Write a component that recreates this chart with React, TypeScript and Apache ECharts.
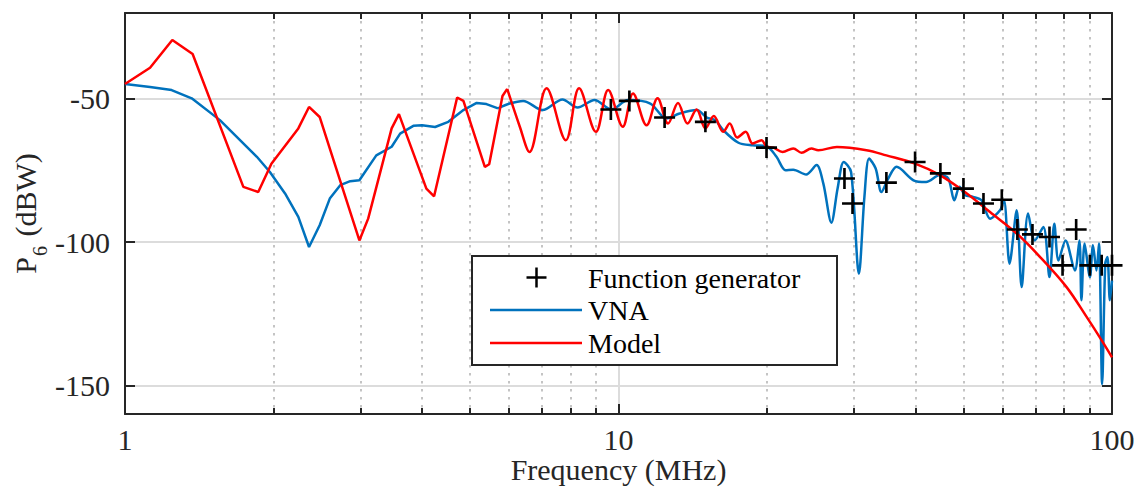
import React, { useEffect, useRef } from "react";
import * as echarts from "echarts";

// ---- data ----
const vnaFreq = [1, 1.124, 1.243, 1.365, 1.557, 1.85, 1.966, 2.11, 2.245, 2.36, 2.48, 2.6, 2.73, 2.86, 2.985, 3.23, 3.47, 3.61, 3.84, 4.0, 4.25, 4.52, 4.85, 5.16, 5.4, 5.7,
  6.02, 6.41, 7.02, 7.7, 8.26, 8.94, 9.67, 10.46, 11.6, 12.5, 13.3, 14.4, 15.1, 15.7, 16.3, 17.5, 18.7, 19.95, 20.9, 21.8, 22.6, 24.0, 25.2, 26.0, 27.0, 27.8, 28.6, 29.6, 30.7, 31.5, 32.2, 33.2, 34.1, 35.2, 36.6, 39.6, 42.0, 44.8, 46.6, 47.9, 49.1, 50.4, 52.3, 54.4, 56.6, 59.3, 60.4, 62.0, 64.1, 65.6, 67.6, 69.8, 72.6, 74.7, 76.4, 77.9, 80.5, 84.1, 85.9, 86.7, 88.0, 90.2, 91.5, 93.0, 94.1, 95.5, 96.9, 97.9, 99.0, 100];
const vnaDb = [-44.8, -45.8, -46.9, -49.8, -57.4, -70.2, -75.5, -83.0, -91.2, -101.7, -94.1, -84.8, -80.1, -78.7, -78.4, -69.7, -66.7, -62.1, -59.4, -59.2, -59.8, -58.0, -53.9, -51.4, -51.8, -53.3,
  -51.6, -50.7, -53.9, -50.2, -53.0, -50.4, -53.7, -50.4, -51.6, -56.8, -55.1, -53.9, -56.5, -57.4, -60.9, -65.3, -66.2, -66.5, -70.2, -74.9, -74.7, -76.4, -73.1, -79.5, -93.2, -81.2, -72.0, -75.5, -111.0, -84.2, -70.8, -74.3, -82.5, -77.8, -73.7, -78.4, -79.0, -76.6, -77.8, -85.4, -80.7, -83.6, -84.2, -85.4, -91.8, -88.9, -85.4, -107.5, -88.9, -115.7, -90.0, -99.4, -94.7, -112.2, -93.6, -106.4, -99.4, -109.9, -99.4, -120.3, -100.5, -112.2, -101.1, -109.9, -100.5, -149.5, -107.5, -105.2, -120.3, -113.4];

const modelFreq = [1, 1.124, 1.247, 1.371, 1.737, 1.862, 1.98, 2.245, 2.36, 2.48, 2.62, 2.985, 3.11, 3.47, 3.59, 4.08, 4.23, 4.71, 4.85, 5.36, 5.47, 5.82, 5.95,
  6.31, 6.6, 7.15, 7.82, 8.32, 9.0, 9.53, 10.2, 10.7, 11.4, 12.0, 12.6, 13.2, 13.8, 14.4, 15.0, 15.6, 16.3, 16.8, 17.4, 18.1, 18.7, 19.5, 19.95, 20.6, 21.5, 22.6, 23.5, 24.6, 25.4, 27.7, 31.8, 34.9, 39.9, 44.8, 50.8, 56.6, 64.1, 71.5, 80.9, 88.9, 95.3, 100];
const modelDb = [-44.8, -39.1, -29.4, -34.3, -80.7, -82.5, -72.6, -60.3, -52.8, -56.3, -69.1, -99.4, -91.8, -60.3, -55.3, -81.3, -84.0, -49.5, -50.7, -73.7, -72.8, -49.0, -46.5,
  -59.7, -68.5, -46.3, -64.4, -46.3, -61.5, -46.9, -59.7, -48.1, -59.2, -49.8, -58.6, -51.4, -58.6, -53.7, -60.3, -56.0, -61.5, -58.6, -63.5, -61.5, -65.6, -64.4, -66.7, -67.0, -68.5, -67.3, -68.8, -67.3, -67.9, -66.8, -67.9, -69.7, -72.6, -76.6, -83.0, -89.5, -97.0, -105.2, -115.7, -126.2, -134.3, -140.2];

const genFreq = [9.65, 10.52, 12.4, 15.0, 19.95, 28.7, 29.8, 34.9, 39.9, 44.9, 50.0, 54.9, 59.8, 64.3, 69.0, 74.7, 79.4, 84.6, 90.2, 95.3, 100];
const genDb = [-53.7, -50.7, -56.5, -58.0, -67.0, -77.8, -86.5, -79.2, -72.0, -76.0, -81.3, -86.5, -85.2, -95.6, -97.3, -98.2, -108.1, -95.6, -108.1, -108.1, -108.1];

const xMajorTicks = [10];
const xMinorTicks = [2, 3, 4, 5, 6, 7, 8, 9, 20, 30, 40, 50, 60, 70, 80, 90];
const yTicks = [-150, -100, -50];

const legendNames = ["Function generator", "VNA", "Model"];

const VNA_SPLIT = 25; // straight segments below, smooth above
const MODEL_SPLIT = 22;

const FONT = "Liberation Serif, Times New Roman, Times, serif";
const AX = "#262626";
const BLUE = "#0072BD";
const RED = "#FF0000";
const PLUS = "path://M8.75,0h2.5v8.75h8.75v2.5h-8.75v8.75h-2.5v-8.75h-8.75v-2.5h8.75z";

const pairs = (xs: number[], ys: number[]) => xs.map((x, i) => [x, ys[i]]);

export default function App() {
  const ref = useRef<HTMLDivElement>(null);
  useEffect(() => {
    if (!ref.current) return;
    const chart = echarts.init(ref.current, null, { renderer: "svg" });
    const vna = pairs(vnaFreq, vnaDb);
    const model = pairs(modelFreq, modelDb);
    const gen = pairs(genFreq, genDb);

    const lineBase = (name: string, color: string) => ({
      name,
      type: "line",
      showSymbol: false,
      symbol: "none",
      lineStyle: { color, width: 2.5 },
      itemStyle: { color },
      xAxisIndex: 0,
      yAxisIndex: 0,
    });

    const xBase = {
      type: "log",
      logBase: 10,
      min: 1,
      max: 100,
      gridIndex: 0,
    };

    const option: any = {
      animation: false,
      grid: { left: 125, right: 29, top: 13, bottom: 75, containLabel: false, outerBoundsMode: "none" },
      xAxis: [
        {
          ...xBase,
          position: "bottom",
          axisLine: { show: true, lineStyle: { color: AX, width: 2 } },
          axisTick: { show: true, inside: true, length: 10, customValues: xMajorTicks, lineStyle: { color: AX, width: 2 } },
          axisLabel: { show: true, fontSize: 30, lineHeight: 22, fontFamily: FONT, color: AX, margin: 14 },
          splitLine: { show: true, lineStyle: { color: "#dcdcdc", width: 2 } },
          minorTick: { show: false },
          name: "Frequency (MHz)",
          nameLocation: "middle",
          nameGap: 44,
          nameMoveOverlap: false,
          nameTextStyle: { fontSize: 30, lineHeight: 22, fontFamily: FONT, color: AX },
        },
        {
          ...xBase,
          position: "bottom",
          axisLine: { show: false },
          axisTick: { show: true, inside: true, length: 6, customValues: xMinorTicks, lineStyle: { color: AX, width: 2 } },
          axisLabel: { show: false },
          splitLine: { show: true, lineStyle: { color: "#c4c4c4", width: 2, type: [2.5, 5.5] } },
        },
        {
          ...xBase,
          position: "top",
          axisLine: { show: true, lineStyle: { color: AX, width: 2 } },
          axisTick: { show: true, inside: true, length: 10, customValues: xMajorTicks, lineStyle: { color: AX, width: 2 } },
          axisLabel: { show: false },
          splitLine: { show: false },
        },
        {
          ...xBase,
          position: "top",
          axisLine: { show: false },
          axisTick: { show: true, inside: true, length: 6, customValues: xMinorTicks, lineStyle: { color: AX, width: 2 } },
          axisLabel: { show: false },
          splitLine: { show: false },
        },
      ],
      yAxis: [
        {
          type: "value",
          min: -160,
          max: -20,
          position: "left",
          axisLine: { show: true, lineStyle: { color: AX, width: 2 } },
          axisTick: { show: true, inside: true, length: 10, customValues: yTicks, lineStyle: { color: AX, width: 2 } },
          axisLabel: { show: true, customValues: yTicks, fontSize: 30, fontFamily: FONT, color: AX, margin: 15 },
          splitLine: { show: true, lineStyle: { color: "#dcdcdc", width: 2 } },
          name: "{p|P}{s|6}{p| (dBW)}",
          nameLocation: "middle",
          nameRotate: 90,
          nameGap: 75,
          nameMoveOverlap: false,
          nameTextStyle: {
            fontFamily: FONT,
            color: AX,
            rich: {
              p: { fontSize: 30, fontFamily: FONT, color: AX, lineHeight: 30, verticalAlign: "top" },
              s: { fontSize: 20, fontFamily: FONT, color: AX, verticalAlign: "bottom", padding: [20, 2, 0, 1] },
            },
          },
        },
        {
          type: "value",
          min: -160,
          max: -20,
          position: "right",
          axisLine: { show: true, lineStyle: { color: AX, width: 2 } },
          axisTick: { show: true, inside: true, length: 10, customValues: yTicks, lineStyle: { color: AX, width: 2 } },
          axisLabel: { show: false },
          splitLine: { show: false },
        },
      ],
      series: [
        { ...lineBase("VNA", BLUE), data: vna.slice(0, VNA_SPLIT + 1), smooth: false, z: 3 },
        { ...lineBase("VNA", BLUE), data: vna.slice(VNA_SPLIT), smooth: 0.3, z: 3 },
        { ...lineBase("Model", RED), data: model.slice(0, MODEL_SPLIT + 1), smooth: false, z: 4 },
        { ...lineBase("Model", RED), data: model.slice(MODEL_SPLIT), smooth: 0.35, z: 4 },
        {
          name: "Function generator",
          type: "scatter",
          data: gen,
          symbol: PLUS,
          symbolSize: 21,
          itemStyle: { color: "#000", opacity: 1 },
          xAxisIndex: 0,
          yAxisIndex: 0,
          z: 5,
        },
      ],
      graphic: [
        {
          type: "group",
          z: 100,
          children: [
            { type: "rect", shape: { x: 472, y: 256, width: 365, height: 109 }, style: { fill: "#fff", stroke: AX, lineWidth: 2 }, z: 100 },
            { type: "line", shape: { x1: 526.5, y1: 277.5, x2: 546.5, y2: 277.5 }, style: { stroke: "#000", lineWidth: 2.5 }, z: 101 },
            { type: "line", shape: { x1: 536.5, y1: 267.5, x2: 536.5, y2: 287.5 }, style: { stroke: "#000", lineWidth: 2.5 }, z: 101 },
            { type: "line", shape: { x1: 490, y1: 310, x2: 582, y2: 310 }, style: { stroke: BLUE, lineWidth: 2.5 }, z: 101 },
            { type: "line", shape: { x1: 490, y1: 343, x2: 582, y2: 343 }, style: { stroke: RED, lineWidth: 2.5 }, z: 101 },
            { type: "text", x: 588, y: 278, style: { text: legendNames[0], font: `28px ${FONT}`, fill: "#000", verticalAlign: "middle" }, z: 101 },
            { type: "text", x: 588, y: 310, style: { text: legendNames[1], font: `28px ${FONT}`, fill: "#000", verticalAlign: "middle" }, z: 101 },
            { type: "text", x: 588, y: 343, style: { text: legendNames[2], font: `28px ${FONT}`, fill: "#000", verticalAlign: "middle" }, z: 101 },
          ],
        },
      ],
    };
    chart.setOption(option);
    return () => chart.dispose();
  }, []);
  return <div ref={ref} style={{ width: 1141, height: 489, position: "absolute", left: 0, top: 0 }} />;
}
